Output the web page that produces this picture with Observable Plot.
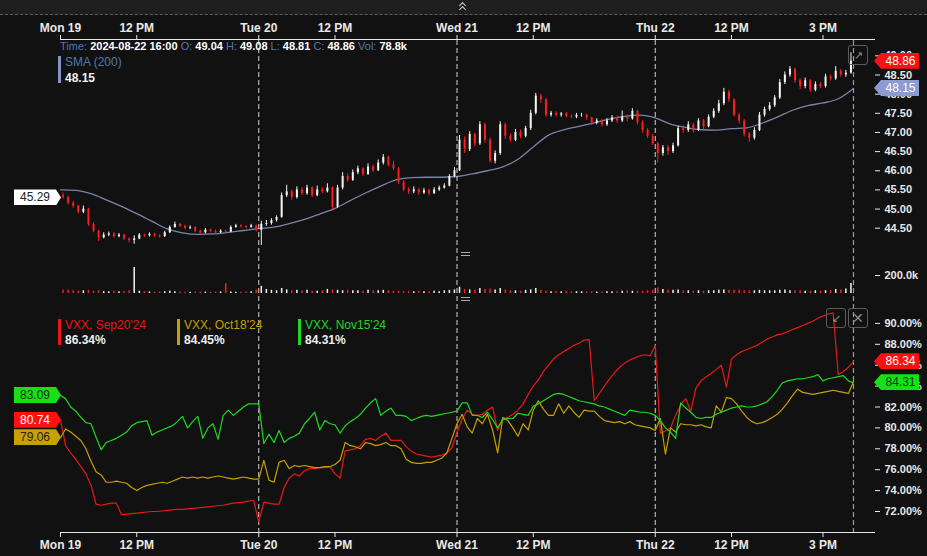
<!DOCTYPE html>
<html><head><meta charset="utf-8">
<script src="https://cdn.jsdelivr.net/npm/d3@7"></script>
<script src="https://cdn.jsdelivr.net/npm/@observablehq/plot@0.6"></script>
<style>
html,body{margin:0;padding:0;background:#111;}
#chart{position:relative;width:927px;height:556px;background:#111;overflow:hidden;font-family:"Liberation Sans",Arial,sans-serif;}
#chart svg{position:absolute;left:0;top:0;}
.topband{position:absolute;left:0;top:0;width:927px;height:14px;background:#1e1e1e;border-bottom:1px dashed #5a5a5a;}
.chev{position:absolute;width:4px;height:4px;border-left:1.5px solid #cfcfcf;border-top:1.5px solid #cfcfcf;transform:rotate(45deg);}
.hdr{position:absolute;font-size:11px;line-height:14px;color:#fff;white-space:nowrap;font-weight:bold;}
.hdr .k{color:#4d7bb0;font-weight:normal;}
.lg{position:absolute;font-size:12px;line-height:14px;white-space:nowrap;}
.lgv{position:absolute;font-size:12px;line-height:14px;color:#f0f0f0;font-weight:bold;white-space:nowrap;}
.bar{position:absolute;width:3px;}
.badge{position:absolute;height:16px;line-height:16px;font-size:12px;box-sizing:border-box;white-space:nowrap;}
.badge.right{left:874px;width:45px;padding-left:8px;text-align:center;clip-path:polygon(0 50%,7px 0,100% 0,100% 100%,7px 100%);}
.badge.left{left:14px;width:47px;padding-right:5px;text-align:center;clip-path:polygon(0 0,calc(100% - 5px) 0,100% 50%,calc(100% - 5px) 100%,0 100%);}
.sep{position:absolute;width:9px;height:2px;border-top:1.5px solid #aaa;border-bottom:1.5px solid #aaa;}
.icon{position:absolute;width:18px;height:18px;border:1px solid #5c5c5c;border-radius:3px;color:#8a8a8a;font-size:11px;line-height:18px;text-align:center;}
</style></head>
<body><div id="chart"></div>
<script>
// ---- time axis ----
const timeTicks = [0, 2.5, 6.5, 9, 13, 15.5, 19.5, 22, 25];
const timeLabels = ["Mon 19","12 PM","Tue 20","12 PM","Wed 21","12 PM","Thu 22","12 PM","3 PM"];
const dayBreaks = [6.5, 13, 19.5];
const lastTime = 26;

// ---- price (10-minute candles) ----
const firstOpen = 45.35;
const priceClose = [
45.30,45.15,45.08,44.92,45.00,44.60,44.42,44.25,44.32,44.35,
44.28,44.32,44.22,44.18,44.22,44.32,44.30,44.34,44.30,44.28,
44.38,44.52,44.60,44.55,44.50,44.52,44.42,44.38,44.45,44.42,
44.38,44.42,44.40,44.52,44.56,44.54,44.52,44.56,44.45,
44.60,44.62,44.70,44.78,45.35,45.45,45.30,45.50,45.40,45.55,
45.35,45.50,45.45,45.55,45.05,45.55,45.85,45.75,45.95,46.05,
45.90,46.10,46.00,46.20,46.35,46.15,46.05,45.70,45.50,45.45,
45.50,45.42,45.48,45.40,45.50,45.55,45.60,45.85,46.00,
46.80,46.55,46.95,46.70,47.20,46.80,46.25,46.45,47.20,46.90,
46.80,47.00,46.90,47.10,47.50,47.95,47.85,47.45,47.50,47.45,
47.48,47.42,47.40,47.45,47.45,47.38,47.25,47.30,47.20,47.30,
47.38,47.30,47.40,47.35,47.55,47.25,47.05,46.90,46.70,
46.45,46.60,46.50,46.65,47.10,47.05,47.20,47.05,47.30,47.15,
47.40,47.55,47.75,48.05,47.85,47.45,47.30,46.95,46.85,47.05,
47.45,47.60,47.70,47.90,48.30,48.50,48.65,48.35,48.20,48.35,
48.10,48.25,48.20,48.45,48.40,48.60,48.50,48.55,48.86];
const priceHigh = [
45.42,45.34,45.20,45.10,45.08,45.02,44.64,44.45,44.38,44.40,
44.38,44.36,44.34,44.25,44.30,44.36,44.35,44.38,44.37,44.33,
44.42,44.56,44.66,44.63,44.58,44.56,44.54,44.45,44.49,44.48,
44.45,44.46,44.45,44.56,44.60,44.59,44.57,44.60,44.58,
44.68,44.70,44.75,44.82,45.42,45.62,45.50,45.58,45.56,45.62,
45.58,45.60,45.56,45.66,45.58,45.62,45.95,45.92,46.02,46.12,
46.08,46.18,46.15,46.28,46.42,46.38,46.25,46.08,45.74,45.56,
45.58,45.55,45.54,45.52,45.56,45.60,45.66,45.90,46.08,
46.92,46.88,47.02,46.98,47.28,47.24,46.85,46.52,47.28,47.25,
46.96,47.08,47.06,47.16,47.58,48.02,48.00,47.88,47.55,47.54,
47.52,47.52,47.46,47.50,47.50,47.48,47.40,47.36,47.34,47.36,
47.44,47.42,47.56,47.46,47.62,47.58,47.30,47.10,46.95,
46.74,46.66,46.66,46.72,47.16,47.18,47.28,47.24,47.36,47.34,
47.46,47.62,47.84,48.15,48.10,47.88,47.50,47.34,47.00,47.12,
47.52,47.66,47.78,47.96,48.38,48.58,48.72,48.68,48.40,48.42,
48.38,48.32,48.30,48.52,48.50,48.72,48.64,48.62,49.08];
const priceLow = [
45.26,45.10,45.02,44.88,44.88,44.55,44.38,44.15,44.22,44.28,
44.24,44.25,44.18,44.12,44.08,44.20,44.26,44.27,44.26,44.24,
44.26,44.36,44.50,44.52,44.46,44.46,44.38,44.34,44.35,44.38,
44.35,44.36,44.37,44.38,44.50,44.50,44.48,44.50,44.40,
44.05,44.55,44.58,44.66,44.76,45.30,45.22,45.26,45.35,45.36,
45.30,45.32,45.40,45.42,44.98,45.02,45.50,45.70,45.72,45.90,
45.85,45.88,45.95,45.98,46.15,46.10,46.00,45.65,45.45,45.38,
45.40,45.36,45.38,45.34,45.38,45.46,45.52,45.58,45.82,
45.98,46.45,46.50,46.62,46.66,46.72,46.20,46.18,46.40,46.82,
46.74,46.76,46.84,46.86,47.05,47.46,47.76,47.40,47.40,47.40,
47.40,47.38,47.36,47.36,47.40,47.32,47.18,47.20,47.14,47.16,
47.26,47.24,47.26,47.28,47.32,47.20,46.98,46.84,46.66,
46.20,46.38,46.40,46.45,46.62,46.98,47.00,46.98,47.02,47.08,
47.12,47.36,47.50,47.70,47.78,47.40,47.22,46.88,46.74,46.80,
47.02,47.40,47.55,47.65,47.86,48.25,48.44,48.28,48.12,48.14,
48.04,48.06,48.14,48.16,48.34,48.36,48.44,48.44,48.52];
// volume in thousands per 10-minute candle
const volumeK = [
40,35,30,25,30,35,25,30,20,20,25,20,20,30,290,25,20,18,15,18,20,25,20,18,15,15,18,15,15,15,15,18,110,18,15,15,18,20,40,
80,45,35,30,55,40,30,35,30,35,25,25,30,45,40,35,30,35,30,30,25,35,30,30,35,30,25,25,20,20,20,25,20,20,25,20,30,35,40,
70,45,40,35,55,45,50,40,55,40,30,30,25,35,40,55,35,25,20,20,20,20,18,20,20,18,20,18,18,20,20,20,25,30,25,25,25,30,35,
60,45,35,35,40,30,30,25,30,25,30,30,35,40,35,35,40,30,30,30,35,30,30,30,35,40,30,30,30,25,25,30,25,30,35,45,40,50,110];
// SMA(200), every 30 minutes
const sma200 = [
45.50,45.49,45.40,45.24,45.07,44.88,44.68,44.48,44.38,44.34,
44.35,44.39,44.44,44.49,44.53,44.62,44.73,44.87,45.02,45.22,
45.42,45.60,45.76,45.82,45.83,45.83,45.85,45.92,46.00,46.10,
46.30,46.62,46.93,47.07,47.16,47.25,47.35,47.42,47.45,47.38,
47.22,47.13,47.07,47.06,47.10,47.12,47.24,47.40,47.58,47.70,
47.77,47.88,48.15];
const leftPrice = 45.29;
const priceTicks = [44.5,45,45.5,46,46.5,47,47.5,48,48.5,49];
const volumeTicks = [200];

// ---- implied volatility, every 10 minutes (%) ----
const ivNames = ["VXX, Sep20'24","VXX, Oct18'24","VXX, Nov15'24"];
const ivColors = ["#e81818","#c4a000","#1fd81f"];
const ivSep = [
80.74,78.3,77.6,77.0,76.3,75.6,74.5,72.7,72.6,72.7,
72.8,72.8,71.7,71.75,71.8,71.85,71.9,71.95,72.0,72.0,
72.05,72.1,72.15,72.2,72.2,72.25,72.3,72.35,72.4,72.45,
72.5,72.55,72.6,72.7,72.8,72.85,72.9,73.0,73.05,71.0,
72.9,72.8,72.7,72.7,74.3,75.2,75.6,75.4,75.9,76.1,
76.1,76.2,76.2,76.3,75.6,75.2,77.8,77.9,78.0,78.3,
78.9,79.0,78.8,79.2,79.5,78.8,78.8,78.8,78.2,77.8,
77.5,77.4,77.3,77.2,77.3,77.4,77.6,78.1,79.6,80.8,
81.7,81.3,81.2,81.3,81.7,82.0,79.75,80.9,81.0,81.3,
81.7,82.3,83.2,84.0,84.6,85.4,86.0,86.6,87.0,87.3,
87.6,87.9,88.1,88.4,88.45,82.6,83.3,84.0,84.7,85.3,
85.8,86.2,86.5,86.7,86.9,87.0,86.9,87.9,79.5,79.7,
80.0,81.2,82.2,82.8,81.6,83.8,84.5,84.9,85.2,85.6,
86.0,83.9,86.6,87.0,87.3,87.5,87.7,87.9,88.2,88.5,
88.7,88.9,89.0,89.2,89.4,89.6,89.8,90.0,90.2,90.5,
90.7,90.9,91.0,85.1,85.4,85.8,86.34];
const ivOct = [
79.06,79.9,79.6,79.2,78.8,78.0,76.8,75.8,75.5,74.8,
74.8,74.9,74.8,74.7,74.3,74.0,74.3,74.5,74.6,74.7,
74.8,74.7,74.9,75.1,75.3,75.2,75.3,75.2,75.3,75.2,
75.3,75.4,75.3,75.2,75.1,75.2,75.3,75.2,75.1,75.1,
76.9,75.0,74.8,76.7,76.9,76.1,76.4,76.3,76.4,76.3,
76.2,76.2,76.3,76.3,76.5,76.9,78.6,78.3,78.2,78.0,
78.6,78.5,78.3,78.4,78.6,78.3,78.3,78.0,77.0,76.7,
76.6,76.6,76.7,76.7,76.9,77.1,77.6,79.0,80.4,81.3,
80.1,79.5,80.9,80.4,81.3,79.8,77.6,81.0,80.7,80.0,
79.2,80.4,79.8,81.7,82.6,81.8,81.2,81.2,82.3,81.4,
82.1,81.5,81.0,81.7,81.6,81.6,81.1,80.7,80.6,80.5,
80.6,80.4,80.6,80.3,80.2,80.1,80.0,79.75,80.9,77.5,
80.0,79.6,80.4,80.3,80.3,80.2,80.3,80.1,80.0,82.1,
81.5,82.9,82.8,82.3,81.6,81.0,80.6,80.4,80.5,80.7,
81.0,81.3,81.8,82.4,83.1,83.7,83.4,83.3,83.2,83.3,
83.4,83.5,83.6,83.5,83.4,83.3,84.45];
const ivNov = [
83.09,82.8,82.0,81.6,81.0,80.5,80.4,79.1,77.9,78.6,
78.8,79.0,79.3,79.6,80.2,80.5,80.6,80.7,79.3,79.6,
79.8,80.0,80.2,80.6,81.1,80.0,80.6,81.1,79.0,80.0,
80.4,78.9,81.2,81.7,81.2,81.6,82.0,82.3,82.3,82.3,
78.5,79.4,78.6,79.75,78.6,79.0,79.2,79.5,80.4,80.9,
81.5,79.8,80.7,80.4,80.3,79.5,80.2,80.6,80.9,81.3,
81.9,82.4,82.8,81.2,81.6,81.9,81.2,81.2,81.1,80.7,
80.9,81.1,81.2,81.1,81.2,81.3,81.4,81.5,81.6,82.4,
82.4,81.2,81.2,81.0,81.5,80.8,80.0,80.8,80.9,80.9,
81.4,81.3,81.2,82.1,82.3,82.6,82.9,83.2,83.3,83.2,
83.0,82.8,82.6,82.5,82.4,82.3,82.1,82.0,81.8,81.6,
81.4,81.2,81.7,81.6,81.5,81.5,81.4,81.2,80.7,80.0,
79.6,79.0,82.4,81.9,81.5,81.0,80.9,81.0,81.0,81.3,
81.5,81.7,81.9,82.0,82.1,82.0,82.0,82.1,82.3,82.5,
83.0,83.6,84.3,84.5,84.6,84.7,84.7,84.8,84.9,85.1,
84.5,84.7,84.8,84.9,85.0,84.5,84.31];
const ivTicks = [72,74,76,78,80,82,84,86,88,90];

// ---- build ----
const chart = document.getElementById("chart");
const W = 927, H = 556;
const xScale = {domain: [0, lastTime], range: [60, 853], axis: null};
const baseStyle = {background: "transparent", color: "#e6e6e6", fontFamily: "'Liberation Sans', Arial, sans-serif", fontSize: "12px", overflow: "visible"};
const tickLabel = new Map(timeTicks.map((t, i) => [t, timeLabels[i]]));

const candles = priceClose.map((c, k) => ({
  t: (k + 0.5) / 6, open: k ? priceClose[k - 1] : firstOpen, close: c,
  high: priceHigh[k], low: priceLow[k], vol: volumeK[k]
}));
const up = candles.filter(d => d.close >= d.open);
const down = candles.filter(d => d.close < d.open);
const UP = "#f4f4f4", DOWN = "#ff1c1c";

function el(cls, css, html) {
  const d = document.createElement("div"); d.className = cls;
  Object.assign(d.style, css); if (html != null) d.innerHTML = html;
  chart.appendChild(d); return d;
}

el("topband", {});
el("chev", {left: "460px", top: "3px"});
el("chev", {left: "460px", top: "7px"});

// price pane
const pricePlot = Plot.plot({
  width: W, height: H, marginTop: 39, marginLeft: 60, marginRight: 53, marginBottom: 300,
  x: xScale,
  y: {domain: [44.5, 49], range: [227.7, 55.35], axis: null},
  style: baseStyle,
  marks: [
    Plot.frame({anchor: "top", stroke: "#e8e8e8"}),
    Plot.axisX(timeTicks, {anchor: "top", tickSize: 5, tickPadding: 3, tickFormat: t => tickLabel.get(t), fontWeight: "bold", fontSize: 12, color: "#e8e8e8", label: null}),
    Plot.axisY(priceTicks, {anchor: "right", tickSize: 5, tickPadding: 5, tickFormat: d => d.toFixed(2), fontWeight: "bold", fontSize: 11, color: "#e8e8e8", label: null}),
    Plot.line(sma200, {x: (d, i) => i / 2, y: d => d, stroke: "#7a84aa", strokeWidth: 1.3, curve: "monotone-x"}),
    Plot.ruleX(up, {x: "t", y1: "low", y2: "high", stroke: UP, strokeWidth: 1}),
    Plot.ruleX(down, {x: "t", y1: "low", y2: "high", stroke: DOWN, strokeWidth: 1}),
    Plot.ruleX(up, {x: "t", y1: "open", y2: "close", stroke: UP, strokeWidth: 2}),
    Plot.ruleX(down, {x: "t", y1: "open", y2: "close", stroke: DOWN, strokeWidth: 2})
  ]
});
chart.appendChild(pricePlot);

// volume pane
const volPlot = Plot.plot({
  width: W, height: H, marginTop: 260, marginLeft: 60, marginRight: 53, marginBottom: 260,
  x: xScale,
  y: {domain: [0, 200], range: [293, 275], axis: null},
  style: baseStyle,
  marks: [
    Plot.axisY(volumeTicks, {anchor: "right", tickSize: 5, tickPadding: 5, tickFormat: d => d.toFixed(1) + "k", fontWeight: "bold", fontSize: 11, color: "#e8e8e8", label: null}),
    Plot.ruleX(up, {x: "t", y1: 0, y2: "vol", stroke: UP, strokeWidth: 1.5}),
    Plot.ruleX(down, {x: "t", y1: 0, y2: "vol", stroke: DOWN, strokeWidth: 1.5})
  ]
});
chart.appendChild(volPlot);

// implied-volatility pane
const ivPlot = Plot.plot({
  width: W, height: H, marginTop: 40, marginLeft: 60, marginRight: 53, marginBottom: 24,
  x: xScale,
  y: {domain: [72, 90], range: [511, 322.9], axis: null},
  style: baseStyle,
  marks: [
    Plot.frame({anchor: "bottom", stroke: "#e8e8e8"}),
    Plot.axisX(timeTicks, {anchor: "bottom", tickSize: 5, tickPadding: 3, tickFormat: t => tickLabel.get(t), fontWeight: "bold", fontSize: 12, color: "#e8e8e8", label: null}),
    Plot.axisY(ivTicks, {anchor: "right", tickSize: 5, tickPadding: 5, tickFormat: d => d.toFixed(2) + "%", fontWeight: "bold", fontSize: 11, color: "#e8e8e8", label: null}),
    Plot.ruleX(dayBreaks, {stroke: "#d4d4d4", strokeDasharray: "5,3", strokeWidth: 1}),
    Plot.ruleX([lastTime], {stroke: "#9c9c9c", strokeDasharray: "5,3", strokeWidth: 1.2}),
    Plot.line(ivSep, {x: (d, i) => i / 6, y: d => d, stroke: ivColors[0], strokeWidth: 1.2}),
    Plot.line(ivOct, {x: (d, i) => i / 6, y: d => d, stroke: ivColors[1], strokeWidth: 1.2}),
    Plot.line(ivNov, {x: (d, i) => i / 6, y: d => d, stroke: ivColors[2], strokeWidth: 1.2})
  ]
});
chart.appendChild(ivPlot);

// ---- overlays ----
const last = candles[candles.length - 1];
el("hdr", {left: "60px", top: "39px"},
  `<span class="k">Time:</span> 2024-08-22 16:00 <span class="k">O:</span> 49.04 <span class="k">H:</span> ${last.high.toFixed(2)} <span class="k">L:</span> 48.81 <span class="k">C:</span> ${last.close.toFixed(2)} <span class="k">Vol:</span> 78.8k`);
el("bar", {left: "58px", top: "56px", height: "27px", background: "#8593c8"});
el("lg", {left: "65px", top: "55px", color: "#5079a8"}, "SMA (200)");
el("lgv", {left: "65px", top: "71px"}, sma200[sma200.length - 1].toFixed(2));

const ivSeries = [ivSep, ivOct, ivNov];
const lgX = [58, 177, 298];
ivSeries.forEach((s, i) => {
  el("bar", {left: lgX[i] + "px", top: "319px", height: "26px", background: ivColors[i]});
  el("lg", {left: (lgX[i] + 7) + "px", top: "318px", color: ivColors[i]}, ivNames[i]);
  el("lgv", {left: (lgX[i] + 7) + "px", top: "333px"}, s[s.length - 1].toFixed(2) + "%");
});

const py = pricePlot.scale("y"), vy = ivPlot.scale("y");
function badge(side, y, text, bg, fg) {
  el("badge " + side, {top: (y - 8) + "px", background: bg, color: fg}, text);
}
badge("right", py.apply(last.close), last.close.toFixed(2), "#ff1010", "#fff");
badge("right", py.apply(sma200[sma200.length - 1]), sma200[sma200.length - 1].toFixed(2), "#8c9bd2", "#fff");
badge("left", py.apply(leftPrice), leftPrice.toFixed(2), "#ffffff", "#222");
badge("left", vy.apply(ivNov[0]), ivNov[0].toFixed(2), "#16e016", "#0b3a0b");
badge("left", vy.apply(ivSep[0]), ivSep[0].toFixed(2), "#ff1010", "#fff");
badge("left", vy.apply(ivOct[0]), ivOct[0].toFixed(2), "#c8a000", "#2a2200");
badge("right", vy.apply(ivSep[ivSep.length - 1]), ivSep[ivSep.length - 1].toFixed(2), "#ff1010", "#fff");
badge("right", vy.apply(ivNov[ivNov.length - 1]), ivNov[ivNov.length - 1].toFixed(2), "#16e016", "#0b3a0b");

el("sep", {left: "461px", top: "252px"});
el("sep", {left: "461px", top: "297px"});
el("icon", {left: "848px", top: "45px"}, "&#8599;");
el("icon", {left: "826px", top: "308px"}, "&#8601;");
el("icon", {left: "848px", top: "308px", fontSize: "14px"}, "&#10005;");
</script>
</body></html>
